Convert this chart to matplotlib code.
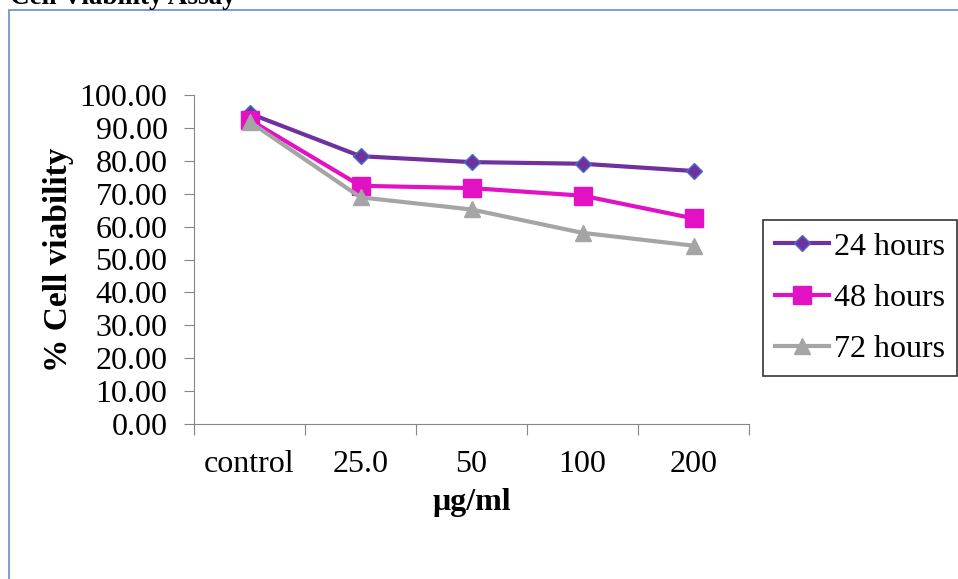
import matplotlib.pyplot as plt
from matplotlib.patches import Rectangle

categories = ["control", "25.0", "50", "100", "200"]
h24 = [94.4, 81.4, 79.6, 79.1, 76.9]
h48 = [92.5, 72.4, 71.7, 69.4, 62.5]
h72 = [91.9, 68.9, 65.2, 58.1, 54.2]

plt.rcParams['font.family'] = ['Liberation Serif', 'DejaVu Serif']
fs = 23

fig = plt.figure(figsize=(9.58, 5.79), dpi=100)

# outer blue frame of the chart area (partly cut off)
fig.patches.append(Rectangle((9 / 958, -0.01), 1.0, 1 - 10 / 579 + 0.01, transform=fig.transFigure,
                             fill=False, edgecolor='#7393d6', linewidth=1.3))
fig.text(10 / 958, 1 - 4 / 579, "Cell Viability Assay", fontsize=19.5, fontweight='bold', va='baseline')

ax = fig.add_axes([194 / 958, 1 - 424 / 579, 555 / 958, 329 / 579])
x = range(len(categories))
ax.plot(x, h24, color='#7030a0', marker='D', markersize=8, markerfacecolor='#7030a0',
        markeredgecolor='#4472c4', markeredgewidth=1, linewidth=3, label='24 hours')
ax.plot(x, h48, color='#e212c4', marker='s', markersize=13, linewidth=3, label='48 hours')
ax.plot(x, h72, color='#a5a5a5', marker='^', markersize=12, linewidth=3, label='72 hours')

ax.set_xlim(-0.5, 4.5)
ax.set_ylim(0, 100)
ax.set_yticks(range(0, 101, 10))
ax.set_yticklabels([f"{v:.2f}" for v in range(0, 101, 10)])
ax.set_xticks([i + 0.5 for i in range(-1, 5)], minor=False)
ax.set_xticklabels([])
ax.set_xticks(list(x), minor=True)
ax.set_xticklabels(categories, minor=True)
ax.tick_params(axis='x', which='major', length=8, color='#868686', direction='out')
ax.tick_params(axis='x', which='minor', length=0, labelsize=fs, pad=19)
ax.tick_params(axis='y', length=7, color='#868686', labelsize=fs, pad=12)
for s in ['top', 'right']:
    ax.spines[s].set_visible(False)
ax.spines['left'].set_color('#868686')
ax.spines['bottom'].set_color('#868686')

ax.set_ylabel("% Cell viability", fontsize=24, fontweight='bold', labelpad=4)
ax.set_xlabel("μg/ml", fontsize=fs, fontweight='bold', labelpad=6)

leg = ax.legend(loc='center left', bbox_to_anchor=(763 / 958, 1 - 298 / 579), bbox_transform=fig.transFigure,
                fontsize=fs, frameon=True, fancybox=False, edgecolor='black', handlelength=1.7,
                handletextpad=0.15, labelspacing=0.68, borderpad=0.38, borderaxespad=0)
leg.get_frame().set_linewidth(1.2)

fig.savefig("out.png", dpi=100)
